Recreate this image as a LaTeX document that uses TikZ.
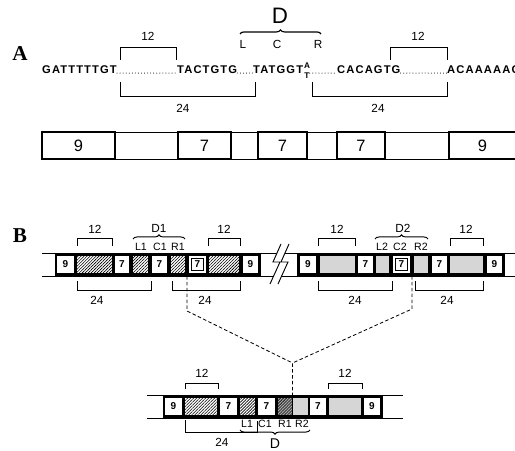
\documentclass[tikz,border=0pt]{standalone}
\usepackage{fontspec}
\setmainfont{Liberation Sans}
\newfontfamily\panelfont{Liberation Serif}
\newfontfamily\seqfont[LetterSpace=10]{Liberation Sans}
\usetikzlibrary{decorations.pathreplacing, patterns.meta}
\tikzstyle{seq} = [font=\seqfont\bfseries\fontsize{9.5}{10}\selectfont, inner sep=0pt]
\tikzstyle{tinyseq} = [font=\bfseries\fontsize{7}{7}\selectfont, inner sep=0pt]
\tikzstyle{lbl} = [font=\fontsize{10}{11}\selectfont, inner sep=0pt]
\tikzstyle{sublbl} = [font=\fontsize{9}{10}\selectfont, inner sep=0pt]
\tikzstyle{panel} = [font=\panelfont\bfseries\fontsize{18}{20}\selectfont, inner sep=0pt]
\tikzstyle{bracket} = [line width=0.7pt]
\tikzstyle{dots} = [line width=0.9pt, line cap=round, dash pattern=on 0pt off 2.6pt,
    transform canvas={yshift=0.8pt}]
\tikzstyle{gene} = [draw, line width=1.3pt, font=\fontsize{14}{15}\selectfont]
\tikzstyle{spacer} = [draw, line width=0.5pt]
\tikzstyle{digit} = [font=\bfseries\fontsize{8.5}{9}\selectfont, inner sep=0pt]
\tikzstyle{hatch} = [fill=white, postaction={pattern={Lines[angle=45,distance=1.8pt,line width=0.5pt]}}]
\tikzstyle{darkhatch} = [fill=black!35, postaction={pattern={Lines[angle=45,distance=1.8pt,line width=0.5pt]}}]
\tikzstyle{stipple} = [fill=black!16]
\tikzstyle{link} = [line width=0.7pt, dash pattern=on 3pt off 2pt]
\tikzstyle{curly} = [decorate, decoration={brace, amplitude=3.5pt}, line width=0.8pt]

\begin{document}
\begin{tikzpicture}[x=0.85pt, y=-0.85pt]
\useasboundingbox (0,0) rectangle (515,451);

\node (pA) [panel] at (20,54) {A};
\node (s1) [seq, anchor=base west] at (42,74) {GATTTTTGT};
\node (s2) [seq, anchor=base west] at (177,74) {TACTGTG};
\node (s3) [seq, anchor=base west] at (253,74) {TATGGT};
\node (nA) [tinyseq, anchor=base] at (307,69) {A};
\node (nT) [tinyseq, anchor=base] at (307,78.5) {T};
\node (s4) [seq, anchor=base west] at (337,74) {CACAGTG};
\node (s5) [seq, anchor=base west] at (447,74) {ACAAAAACC};
\draw[dots] (s1.base east) -- (s2.base west);
\draw[dots] (s2.base east) -- (s3.base west);
\draw[dots] (nT.east |- s4.base west) -- (s4.base west);
\draw[dots] (s4.base east) -- (s5.base west);

\draw[bracket] (120,60) -- (120,47) -- (176,47) -- (176,60);
\draw[bracket] (120,82) -- (120,96) -- (255,96) -- (255,82);
\draw[bracket] (390,60) -- (390,47) -- (447,47) -- (447,60);
\draw[bracket] (312,82) -- (312,96) -- (447,96) -- (447,82);
\node (t12a) [lbl] at (148,36) {12};
\node (t24a) [lbl] at (183,108) {24};
\node (t12b) [lbl] at (418,36) {12};
\node (t24b) [lbl] at (378,108) {24};

\draw[curly, line width=1pt] (240,34) -- (321,34);
\node (dA) [font=\fontsize{19}{20}\selectfont, inner sep=0pt] at (280,16) {D};
\node (lL) [lbl] at (243,44) {L};
\node (lC) [lbl] at (277,44) {C};
\node (lR) [lbl] at (318,44) {R};

\draw[spacer] (42,132) rectangle (530,159);
\foreach \a/\b/\t [count=\i] in {42/115/9, 178/231/7, 258/307/7, 337/385/7, 449/516/9}
    \draw[gene] (\a,132) rectangle (\b,159) node (g\i) [midway] {\t};

\node (pB) [panel] at (20,236) {B};
\draw[spacer] (42,253) -- (530,253) (42,276) -- (530,276);
\fill (55,253) rectangle (261,276);
\fill (297,253) rectangle (505,276);
\foreach \a/\b/\t [count=\i] in {57/74/9, 115/129/7, 152/167/7, 189/206/7, 243/258/9,
    300/316/9, 358/373/7, 393/410/7, 432/447/7, 487/502/9}
    \fill[white] (\a,256) rectangle (\b,273) node (b\i) [midway, digit, black] {\t};
\foreach \a/\b in {77/112, 133/148, 171/185, 209/239}
    \fill[hatch] (\a,256) rectangle (\b,273);
\foreach \a/\b in {320/355, 376/389, 414/428, 450/483}
    \fill[stipple] (\a,256) rectangle (\b,273);
\draw[line width=0.6pt] (191.5,258.5) rectangle (203.5,270.5);
\draw[line width=0.6pt] (395.5,258.5) rectangle (407.5,270.5);

\fill[white] (281,244) -- (273,262) -- (280,262) -- (270,284) -- (278,284)
    -- (288,262) -- (281,262) -- (289,244) -- cycle;
\draw[line width=0.8pt] (281,244) -- (273,262) -- (280,262) -- (270,284);
\draw[line width=0.8pt] (289,244) -- (281,262) -- (288,262) -- (278,284);

\draw[bracket] (77,246) -- (77,238) -- (112,238) -- (112,246);
\draw[bracket] (208,246) -- (208,238) -- (240,238) -- (240,246);
\draw[bracket] (77,281) -- (77,290) -- (151,290) -- (151,281);
\draw[bracket] (172,281) -- (172,290) -- (240,290) -- (240,281);
\draw[curly] (133,239) -- (185,239);
\node (u12a) [lbl] at (95,229) {12};
\node (u12b) [lbl] at (224,229) {12};
\node (u24a) [lbl] at (97,300) {24};
\node (u24b) [lbl] at (205,300) {24};
\node (d1) [lbl] at (159,228) {D1};
\node (l1) [sublbl] at (141,247) {L1};
\node (c1) [sublbl] at (160,247) {C1};
\node (r1) [sublbl] at (178,247) {R1};

\draw[bracket] (318,246) -- (318,238) -- (355,238) -- (355,246);
\draw[bracket] (450,246) -- (450,238) -- (483,238) -- (483,246);
\draw[bracket] (318,281) -- (318,290) -- (392,290) -- (392,281);
\draw[bracket] (415,281) -- (415,290) -- (483,290) -- (483,281);
\draw[curly] (375,239) -- (428,239);
\node (v12a) [lbl] at (337,229) {12};
\node (v12b) [lbl] at (466,229) {12};
\node (v24a) [lbl] at (355,300) {24};
\node (v24b) [lbl] at (447,300) {24};
\node (d2) [lbl] at (403,228) {D2};
\node (l2) [sublbl] at (382,247) {L2};
\node (c2) [sublbl] at (400,247) {C2};
\node (r2) [sublbl] at (421,247) {R2};

\draw[spacer] (147,395) -- (403,395) (147,418) -- (403,418);
\fill (163,395) rectangle (383,418);
\foreach \a/\b/\t [count=\i] in {165/182/9, 220/237/7, 258/275/7, 310/326/7, 364/380/9}
    \fill[white] (\a,398) rectangle (\b,415) node (c\i) [midway, digit, black] {\t};
\foreach \a/\b in {185/217, 240/255}
    \fill[hatch] (\a,398) rectangle (\b,415);
\fill[darkhatch] (278,398) rectangle (292,415);
\foreach \a/\b in {293/308, 329/361}
    \fill[stipple] (\a,398) rectangle (\b,415);

\draw[bracket] (185,389) -- (185,383) -- (218,383) -- (218,389);
\draw[bracket] (328,389) -- (328,383) -- (362,383) -- (362,389);
\draw[bracket] (185,420) -- (185,432) -- (257,432) -- (257,421);
\draw[curly, decoration={mirror}] (240,430) -- (310,430);
\node (w12a) [lbl] at (202,373) {12};
\node (w12b) [lbl] at (345,373) {12};
\node (w24) [lbl] at (222,442) {24};
\node (dB) [font=\fontsize{12}{13}\selectfont, inner sep=0pt] at (275,444) {D};
\node (m1) [sublbl] at (247,424) {L1};
\node (m2) [sublbl] at (265,424) {C1};
\node (m3) [sublbl] at (285,424) {R1};
\node (m4) [sublbl] at (302,424) {R2};

\coordinate (cut1) at (187,276);
\coordinate (bend1) at (187,311);
\coordinate (cut2) at (412,276);
\coordinate (bend2) at (412,309);
\coordinate (joint) at (292.5,363);
\coordinate (cut3) at (292.5,395);
\draw[link] (cut1) -- (bend1) -- (joint) -- (cut3);
\draw[link] (cut2) -- (bend2) -- (joint);

\end{tikzpicture}
\end{document}
